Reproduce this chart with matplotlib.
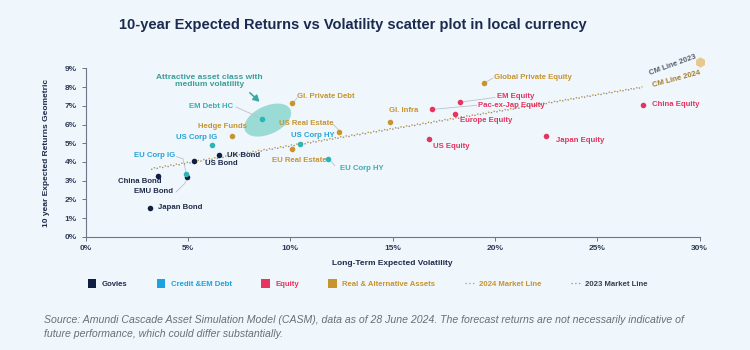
import matplotlib
matplotlib.use("Agg")
import matplotlib.pyplot as plt
from matplotlib.patches import Ellipse, Patch
from matplotlib.lines import Line2D
from matplotlib.ticker import FuncFormatter
from matplotlib.transforms import ScaledTranslation

plt.rcParams["font.family"] = ["Liberation Sans", "DejaVu Sans"]

# --- data (volatility %, expected return %) ---
govies_names = ["Japan Bond", "China Bond", "EMU Bond", "US Bond", "UK Bond"]
govies_vol = [3.15, 3.52, 4.95, 5.31, 6.53]
govies_ret = [1.53, 3.25, 3.18, 4.05, 4.37]

credit_names = ["EU Corp IG", "US Corp IG", "EM Debt HC", "US Corp HY", "EU Corp HY"]
credit_vol = [4.90, 6.20, 8.61, 10.50, 11.86]
credit_ret = [3.36, 4.90, 6.29, 4.96, 4.17]

equity_names = ["US Equity", "Pac-ex-Jap Equity", "Europe Equity", "EM Equity",
                "Japan Equity", "China Equity"]
equity_vol = [16.79, 16.92, 18.06, 18.30, 22.50, 27.24]
equity_ret = [5.21, 6.81, 6.58, 7.20, 5.37, 7.06]

real_names = ["Hedge Funds", "Gl. Private Debt", "EU Real Estate", "US Real Estate",
              "Gl. Infra", "Global Private Equity"]
real_vol = [7.15, 10.10, 10.07, 12.38, 14.87, 19.45]
real_ret = [5.40, 7.17, 4.67, 5.61, 6.15, 8.20]

line_2024_vol = [3.2, 27.2]
line_2024_ret = [3.66, 8.02]
line_2023_vol = [3.2, 27.2]
line_2023_ret = [3.60, 7.98]

x_ticks = [0, 5, 10, 15, 20, 25, 30]
y_ticks = [0, 1, 2, 3, 4, 5, 6, 7, 8, 9]

# --- styles ---
BG = "#eff6fc"
NAVY = "#0f1e42"
TEXT_NAVY = "#1f2b4a"
CREDIT_PT = "#2bb5b5"
CREDIT_TXT = "#27a3d6"
CREDIT_TEAL = "#3aaeb0"
EQUITY = "#e6335f"
GOLD = "#c8942e"
LEADER = "#b9c2cd"
GREY_LINE = "#8a8f99"

label_pos = {
    "Japan Bond": (3.54, 1.57, "left"),
    "China Bond": (2.66, 2.94, "center"),
    "EMU Bond": (3.34, 2.41, "center"),
    "US Bond": (5.83, 3.93, "left"),
    "UK Bond": (6.89, 4.33, "left"),
    "EU Corp IG": (3.39, 4.33, "center"),
    "US Corp IG": (5.43, 5.32, "center"),
    "EM Debt HC": (6.13, 6.96, "center"),
    "US Corp HY": (11.08, 5.43, "center"),
    "EU Corp HY": (13.49, 3.64, "center"),
    "US Equity": (17.88, 4.84, "center"),
    "Pac-ex-Jap Equity": (20.78, 7.01, "center"),
    "Europe Equity": (19.56, 6.23, "center"),
    "EM Equity": (21.02, 7.49, "center"),
    "Japan Equity": (24.17, 5.14, "center"),
    "China Equity": (28.82, 7.05, "center"),
    "Hedge Funds": (6.68, 5.92, "center"),
    "Gl. Private Debt": (10.33, 7.49, "left"),
    "EU Real Estate": (10.42, 4.09, "center"),
    "US Real Estate": (10.79, 6.07, "center"),
    "Gl. Infra": (15.55, 6.73, "center"),
    "Global Private Equity": (21.83, 8.53, "center"),
}

label_colors = {
    "EU Corp IG": CREDIT_TXT, "US Corp IG": CREDIT_TXT,
    "EM Debt HC": CREDIT_TEAL, "US Corp HY": CREDIT_TXT, "EU Corp HY": CREDIT_TEAL,
}

leaders = [
    [(4.45, 4.28), (4.76, 4.17), (4.91, 3.45)],
    [(4.42, 2.39), (4.85, 2.85), (4.95, 3.1)],
    [(7.35, 6.94), (8.55, 6.35)],
    [(12.08, 6.03), (12.35, 5.72)],
    [(11.89, 4.16), (12.18, 3.80)],
    [(10.13, 7.14), (10.33, 7.42)],
    [(16.92, 6.81), (19.1, 7.03)],
    [(18.3, 7.2), (20.0, 7.45)],
    [(19.45, 8.2), (19.9, 8.49)],
]

fig = plt.figure(figsize=(7.5, 3.5), dpi=100, facecolor=BG)
ax = fig.add_axes([0.114, 0.3237, 0.819, 0.4806], facecolor=BG)

# highlight ellipse
ell_tr = fig.dpi_scale_trans + ScaledTranslation(8.9, 6.24, ax.transData)
ax.add_patch(Ellipse((0, 0), 0.5, 0.28, angle=25, transform=ell_tr,
                     facecolor="#86d5cd", edgecolor="none", alpha=0.8, zorder=1))

for pts in leaders:
    ax.plot([p[0] for p in pts], [p[1] for p in pts], color=LEADER, lw=0.6, zorder=2)

ax.plot(line_2023_vol, line_2023_ret, linestyle=(0, (1, 3)), color=GREY_LINE, lw=1.0, zorder=2)
ax.plot(line_2024_vol, line_2024_ret, linestyle=(2, (1, 3)), color=GOLD, lw=1.0, zorder=2)

groups = [
    (govies_names, govies_vol, govies_ret, NAVY, TEXT_NAVY),
    (credit_names, credit_vol, credit_ret, CREDIT_PT, CREDIT_TXT),
    (equity_names, equity_vol, equity_ret, EQUITY, EQUITY),
    (real_names, real_vol, real_ret, GOLD, GOLD),
]
for names, xs, ys, pcol, tcol in groups:
    ax.scatter(xs, ys, s=16, color=pcol, zorder=3, linewidths=0)
    for n in names:
        lx, ly, ha = label_pos[n]
        ax.text(lx, ly, n, ha=ha, va="center", fontsize=5.6, fontweight="bold",
                color=label_colors.get(n, tcol), zorder=4)

ax.text(6.04, 8.33, "Attractive asset class with\nmedium volatility", ha="center",
        va="center", fontsize=6, fontweight="bold", color="#3a9e99", linespacing=1.1)
ax.annotate("", xy=(8.6, 7.12), xytext=(7.93, 7.80),
            arrowprops=dict(arrowstyle="-|>,head_width=0.2,head_length=0.35",
                            color="#3aa7a0", lw=1.2))

ax.text(28.69, 9.19, "CM Line 2023", ha="center", va="center", fontsize=5.6,
        fontweight="bold", color="#5a5f6a", rotation=20, clip_on=False)
ax.text(28.88, 8.42, "CM Line 2024", ha="center", va="center", fontsize=5.6,
        fontweight="bold", color="#a57c28", rotation=15, clip_on=False)
ax.scatter([30.0], [9.35], s=40, color="#e6c98f", marker="h", clip_on=False, zorder=3)

ax.set_xlim(0, 30)
ax.set_ylim(0, 9)
ax.set_xticks(x_ticks)
ax.set_yticks(y_ticks)
ax.xaxis.set_major_formatter(FuncFormatter(lambda v, _: f"{v:.0f}%"))
ax.yaxis.set_major_formatter(FuncFormatter(lambda v, _: f"{v:.0f}%"))
for s in ["top", "right"]:
    ax.spines[s].set_visible(False)
for s in ["left", "bottom"]:
    ax.spines[s].set_color("#6d7686")
    ax.spines[s].set_linewidth(0.8)
ax.tick_params(axis="both", length=3, width=0.7, color="#6d7686", labelsize=6,
               labelcolor="#2d3a55", pad=3)
for lab in ax.get_xticklabels() + ax.get_yticklabels():
    lab.set_fontweight("bold")

ax.set_xlabel("Long-Term Expected Volatility", fontsize=6, fontweight="bold",
              color=TEXT_NAVY, labelpad=6)
ax.set_ylabel("10 year Expected Returns Geometric", fontsize=6, fontweight="bold",
              color=TEXT_NAVY, labelpad=11)

fig.text(0.47, 0.928, "10-year Expected Returns vs Volatility scatter plot in local currency",
         ha="center", va="center", fontsize=10.5, fontweight="bold", color="#1b2a4f")

handles = [
    Patch(facecolor=NAVY, edgecolor="none"),
    Patch(facecolor="#1aa3df", edgecolor="none"),
    Patch(facecolor=EQUITY, edgecolor="none"),
    Patch(facecolor=GOLD, edgecolor="none"),
    Line2D([], [], color=GOLD, linestyle=(0, (1, 2)), lw=0.9),
    Line2D([], [], color=GREY_LINE, linestyle=(0, (1, 2)), lw=0.9),
]
labels = ["Govies", "Credit &EM Debt", "Equity", "Real & Alternative Assets",
          "2024 Market Line", "2023 Market Line"]
leg = fig.legend(handles, labels, loc="center", bbox_to_anchor=(0.49, 0.19), ncol=6,
                 frameon=False, fontsize=5.6, handlelength=1.1, handleheight=1.3,
                 handletextpad=0.7, columnspacing=3.8)
for t, c in zip(leg.get_texts(), [TEXT_NAVY, "#1aa3df", EQUITY, GOLD, GOLD, "#3a3f4a"]):
    t.set_color(c)
    t.set_fontweight("bold")

fig.text(0.058, 0.066,
         "Source: Amundi Cascade Asset Simulation Model (CASM), data as of 28 June 2024. "
         "The forecast returns are not necessarily indicative of\n"
         "future performance, which could differ substantially.",
         ha="left", va="center", fontsize=7.6, style="italic", color="#6b6f76",
         linespacing=1.45)

fig.savefig("out.png", dpi=100, facecolor=BG)
